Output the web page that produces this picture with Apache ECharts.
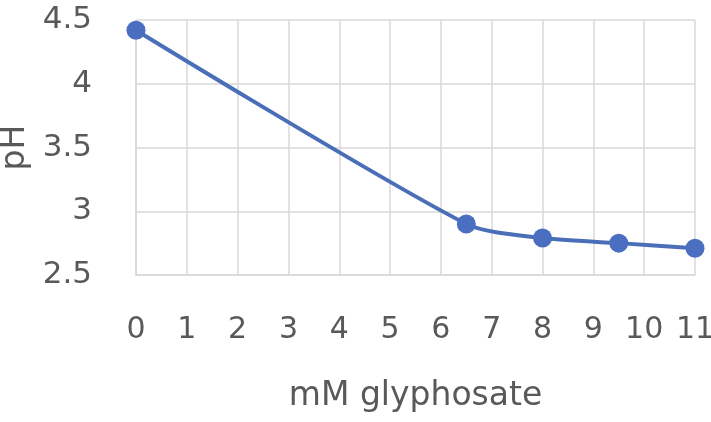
<!DOCTYPE html>
<html>
<head>
<meta charset="utf-8">
<script src="https://cdn.jsdelivr.net/npm/echarts@6/dist/echarts.min.js"></script>
<style>
html,body{margin:0;padding:0;background:#fff;}
#chart{width:711px;height:422px;}
</style>
</head>
<body>
<div id="chart"></div>
<script>
const glyphosate = [0, 6.5, 8, 9.5, 11];
const pH = [4.42, 2.9, 2.79, 2.75, 2.71];
const xTitle = 'mM glyphosate';
const yTitle = 'pH';

const chart = echarts.init(document.getElementById('chart'), null, {renderer: 'canvas'});
const font = 'DejaVu Sans';
chart.setOption({
  animation: false,
  backgroundColor: '#ffffff',
  grid: {left: 136, right: 16, top: 20, bottom: 147, containLabel: false, outerBoundsMode: 'none'},
  xAxis: {
    type: 'value', min: 0, max: 11, interval: 1,
    name: xTitle, nameLocation: 'middle', nameGap: 105,
    nameTextStyle: {fontFamily: font, fontSize: 33, color: '#595959'},
    axisLine: {show: true, lineStyle: {color: '#d9d9d9', width: 1.5}},
    axisTick: {show: false},
    axisLabel: {fontFamily: font, fontSize: 30, color: '#595959', margin: 40, hideOverlap: false},
    splitLine: {show: true, lineStyle: {color: '#d9d9d9', width: 1.5}}
  },
  yAxis: {
    type: 'value', min: 2.5, max: 4.5, interval: 0.5,
    name: yTitle, nameLocation: 'middle', nameGap: 101, nameRotate: 90,
    nameTextStyle: {fontFamily: font, fontSize: 33, color: '#595959'},
    axisLine: {show: true, lineStyle: {color: '#d9d9d9', width: 1.5}},
    axisTick: {show: false},
    axisLabel: {fontFamily: font, fontSize: 31, color: '#595959', margin: 44},
    splitLine: {show: true, lineStyle: {color: '#d9d9d9', width: 1.5}}
  },
  series: [{
    type: 'line',
    data: glyphosate.map((x, i) => [x, pH[i]]),
    smooth: 0.25,
    symbol: 'circle',
    symbolSize: 19,
    lineStyle: {color: '#4a6fb8', width: 4},
    itemStyle: {color: '#4a6fc0'}
  }]
});
</script>
</body>
</html>
